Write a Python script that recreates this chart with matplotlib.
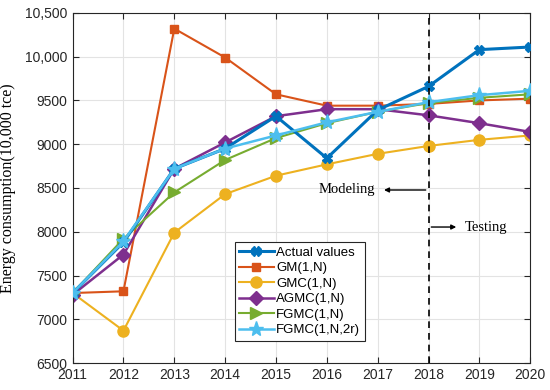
import matplotlib
matplotlib.use("Agg")
import matplotlib.pyplot as plt
from matplotlib.ticker import FuncFormatter

# Datos
years = [2011, 2012, 2013, 2014, 2015, 2016, 2017, 2018, 2019, 2020]
actual = [7300, 7880, 8720, 8950, 9320, 8840, 9390, 9660, 10080, 10110]
gm = [7300, 7320, 10320, 9990, 9570, 9440, 9440, 9460, 9500, 9520]
gmc = [7300, 6870, 7990, 8430, 8640, 8770, 8890, 8980, 9050, 9100]
agmc = [7280, 7740, 8720, 9020, 9320, 9400, 9400, 9330, 9240, 9140]
fgmc = [7300, 7920, 8450, 8820, 9070, 9240, 9370, 9470, 9530, 9570]
fgmc2r = [7300, 7890, 8720, 8950, 9100, 9250, 9370, 9480, 9560, 9610]
yticks = [6500, 7000, 7500, 8000, 8500, 9000, 9500, 10000, 10500]

fig = plt.figure(figsize=(5.5, 3.9), dpi=100)
ax = fig.add_axes([0.132, 0.069, 0.832, 0.898])

ax.plot(years, actual, color="#0072BD", lw=2.2, marker="X", ms=7, label="Actual values", zorder=5)
ax.plot(years, gm, color="#D95319", lw=1.5, marker="s", ms=6, label="GM(1,N)")
ax.plot(years, gmc, color="#EDB120", lw=1.5, marker="o", ms=8, label="GMC(1,N)")
ax.plot(years, agmc, color="#7E2F8E", lw=1.8, marker="D", ms=7, label="AGMC(1,N)")
ax.plot(years, fgmc, color="#77AC30", lw=1.5, marker=">", ms=8, label="FGMC(1,N)")
ax.plot(years, fgmc2r, color="#4DBEEE", lw=1.8, marker="*", ms=11, label="FGMC(1,N,2r)", zorder=6)

# Linea de separacion modelado / prueba
ax.axvline(2018, color="black", ls=(0, (4, 3)), lw=1.2, zorder=7)
ax.annotate("", xy=(2017.07, 8477), xytext=(2018, 8477),
            arrowprops=dict(arrowstyle="-|>", color="black", lw=1, mutation_scale=7))
ax.text(2016.95, 8477, "Modeling", ha="right", va="center", fontsize=10.5, family="Liberation Serif")
ax.annotate("", xy=(2018.6, 8054), xytext=(2018, 8054),
            arrowprops=dict(arrowstyle="-|>", color="black", lw=1, mutation_scale=7))
ax.text(2018.72, 8054, "Testing", ha="left", va="center", fontsize=10.5, family="Liberation Serif")

ax.set_xlim(2011, 2020)
ax.set_ylim(6500, 10500)
ax.set_xticks(years)
ax.set_yticks(yticks)
ax.yaxis.set_major_formatter(FuncFormatter(lambda v, p: f"{v:,.0f}" if v >= 10000 else f"{v:.0f}"))
ax.tick_params(direction="in", top=True, right=True, labelsize=10, colors="#262626", length=4)
for lab in ax.get_xticklabels() + ax.get_yticklabels():
    lab.set_family("Liberation Sans")
ax.grid(True, color="#e3e3e3", lw=0.8)
for s in ax.spines.values():
    s.set_color("#262626")
    s.set_linewidth(0.8)

ax.set_ylabel("Energy consumption(10,000 tce)", family="Liberation Serif", fontsize=11.5, labelpad=7)

leg = ax.legend(loc="lower left", bbox_to_anchor=(0.354, 0.063), prop={"family": "Liberation Sans", "size": 9.5},
                fancybox=False, framealpha=1, edgecolor="#262626", handlelength=2.6,
                borderpad=0.35, labelspacing=0.25, handletextpad=0.2, borderaxespad=0)
leg.get_frame().set_linewidth(0.8)

fig.savefig("out.png", dpi=100)
